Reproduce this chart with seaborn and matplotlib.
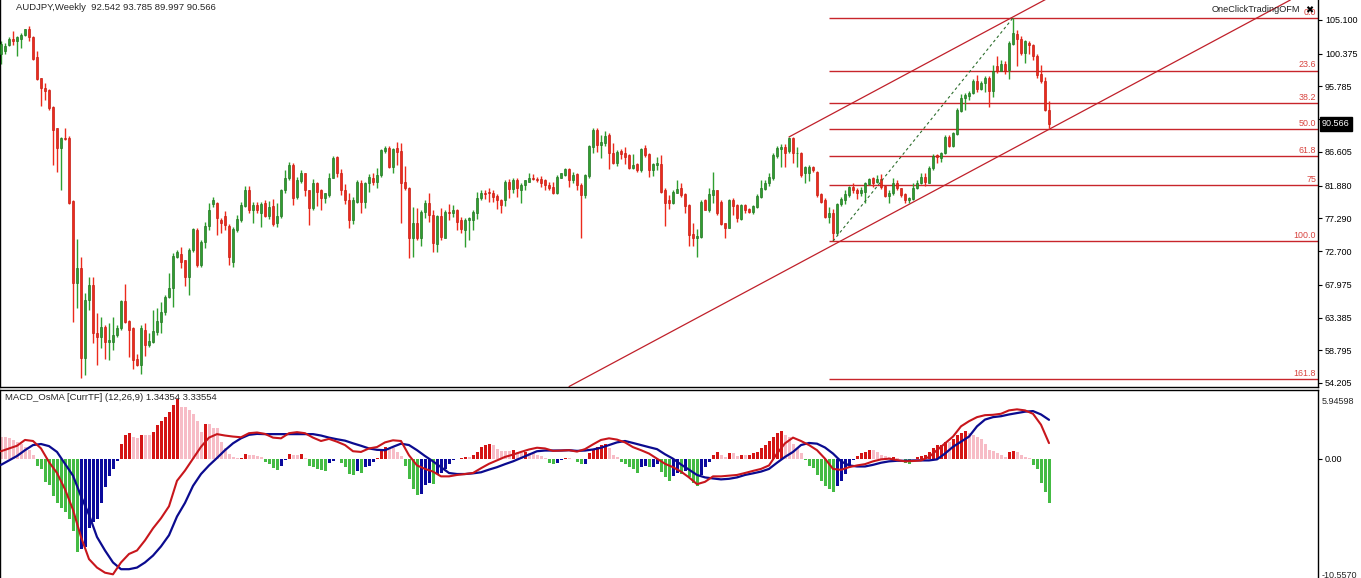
import numpy as np
import pandas as pd
import matplotlib
matplotlib.use("Agg")
import matplotlib.pyplot as plt
import matplotlib.transforms as mtransforms
import seaborn as sns

# ---------------- data ----------------
title_text = 'AUDJPY,Weekly  92.542 93.785 89.997 90.566'
macd_title = 'MACD_OsMA [CurrTF] (12,26,9) 1.34354 3.33554'

opens = [
    100.4, 100.7, 101.6, 102.4, 102.1, 102.5, 103.0, 103.8, 102.7, 99.9,
    96.9, 95.5, 95.3, 92.9, 89.9, 87.1, 88.5, 88.5, 79.7, 68.2,
    70.3, 57.7, 65.8, 68.0, 61.2, 60.7, 62.0, 59.9, 60.0, 60.9,
    61.9, 65.7, 62.9, 61.9, 57.5, 56.7, 61.7, 59.5, 60.0, 61.4,
    62.8, 64.2, 66.2, 67.5, 71.9, 72.3, 71.4, 69.1, 72.9, 75.7,
    70.8, 74.0, 76.2, 79.3, 79.5, 77.0, 77.6, 76.2, 71.2, 75.7,
    77.1, 79.0, 81.3, 78.4, 79.2, 78.0, 79.4, 77.6, 79.0, 76.6,
    77.6, 81.2, 83.0, 84.8, 80.3, 82.5, 83.6, 81.2, 78.8, 82.2,
    81.3, 80.2, 80.6, 83.0, 85.9, 83.6, 81.2, 79.9, 77.1, 79.6,
    82.3, 79.6, 82.3, 83.0, 82.4, 83.4, 86.8, 87.2, 84.5, 87.2,
    86.7, 82.4, 81.6, 74.5, 76.7, 74.6, 78.2, 79.5, 77.8, 73.7,
    77.6, 74.6, 78.2, 78.0, 78.4, 77.0, 75.7, 77.0, 77.1, 78.1,
    80.2, 80.9, 80.9, 80.9, 80.4, 79.9, 79.9, 82.4, 81.4, 82.6,
    81.2, 82.0, 82.4, 83.0, 82.8, 82.8, 82.6, 82.0, 81.7, 80.8,
    83.0, 83.4, 84.2, 82.6, 83.5, 82.0, 80.6, 83.2, 87.3, 89.7,
    87.6, 87.9, 89.0, 86.4, 85.0, 86.8, 86.5, 86.2, 84.3, 84.9,
    84.0, 87.1, 86.3, 84.0, 84.8, 84.9, 81.2, 79.8, 79.5, 80.9,
    81.5, 80.7, 79.2, 75.1, 74.6, 74.7, 79.8, 78.5, 80.6, 81.2,
    79.6, 76.6, 76.0, 79.9, 79.2, 77.2, 79.2, 78.6, 78.2, 78.9,
    80.3, 81.4, 82.2, 83.0, 86.0, 87.0, 87.3, 86.8, 88.5, 86.4,
    86.5, 83.6, 83.6, 84.5, 83.8, 80.7, 79.9, 77.5, 78.1, 75.2,
    79.3, 79.9, 80.6, 81.7, 81.3, 80.9, 81.0, 82.1, 82.9, 82.4,
    82.8, 81.8, 80.4, 80.9, 82.3, 81.5, 80.7, 79.8, 80.0, 81.5,
    82.2, 83.1, 82.3, 84.3, 86.2, 85.8, 86.4, 88.7, 87.4, 89.1,
    92.4, 94.1, 94.4, 94.9, 96.6, 95.4, 96.3, 96.9, 95.2, 98.6,
    98.0, 98.9, 98.1, 101.8, 103.2, 102.5, 100.5, 101.9, 101.6, 100.0,
    97.5, 96.6, 92.542]

highs = [
    102.1, 101.9, 102.7, 103.5, 102.9, 103.3, 103.9, 104.3, 102.8, 100.7,
    97.0, 96.2, 95.4, 93.0, 90.0, 88.7, 89.9, 88.8, 79.9, 74.4,
    71.8, 66.8, 69.1, 69.1, 64.0, 63.5, 62.3, 62.6, 63.5, 62.3,
    65.8, 68.1, 63.1, 62.1, 58.3, 62.3, 62.6, 61.2, 64.4, 64.7,
    65.6, 66.5, 69.6, 72.4, 72.8, 73.3, 71.5, 73.1, 76.0, 76.0,
    74.3, 76.8, 79.4, 80.3, 79.6, 77.3, 78.3, 76.5, 76.1, 77.8,
    79.6, 81.8, 81.8, 79.6, 79.6, 79.6, 79.9, 79.7, 80.0, 79.4,
    81.4, 84.1, 85.2, 85.1, 83.1, 84.1, 83.7, 81.3, 82.8, 82.4,
    81.4, 80.9, 83.7, 86.0, 86.1, 84.2, 82.1, 80.9, 80.3, 82.7,
    82.6, 82.4, 83.5, 83.6, 84.4, 87.0, 87.4, 87.4, 87.2, 88.0,
    87.8, 84.6, 81.7, 78.9, 78.8, 78.4, 79.9, 80.8, 78.4, 77.8,
    78.7, 78.5, 79.3, 79.2, 78.6, 77.5, 77.3, 77.5, 78.5, 81.0,
    81.2, 81.3, 81.6, 81.2, 80.7, 80.0, 82.6, 82.8, 82.9, 82.9,
    82.3, 82.7, 83.6, 83.5, 83.1, 83.2, 82.8, 82.4, 82.4, 83.4,
    83.7, 84.3, 84.3, 83.8, 83.7, 82.2, 83.5, 87.6, 89.9, 89.9,
    89.0, 89.6, 89.3, 87.9, 86.9, 87.0, 87.3, 86.3, 86.3, 85.1,
    87.2, 87.6, 86.5, 85.1, 85.9, 86.2, 81.5, 80.6, 81.2, 82.6,
    82.3, 80.9, 79.3, 76.7, 75.8, 79.9, 80.0, 81.5, 83.8, 81.3,
    79.9, 76.7, 80.0, 80.1, 79.3, 79.3, 79.3, 78.7, 79.2, 80.7,
    82.6, 82.6, 83.7, 86.4, 87.4, 87.7, 87.7, 88.7, 88.7, 87.3,
    86.6, 84.6, 84.8, 84.6, 83.9, 80.9, 80.1, 78.9, 78.6, 79.5,
    80.3, 81.3, 81.8, 82.3, 81.5, 81.7, 82.4, 82.9, 83.1, 83.4,
    83.5, 82.0, 81.3, 82.9, 82.7, 81.6, 80.9, 80.3, 82.3, 82.7,
    83.7, 83.7, 84.6, 86.3, 86.3, 86.6, 89.0, 89.0, 89.4, 92.7,
    94.7, 94.9, 95.2, 96.8, 97.4, 96.6, 97.2, 97.2, 98.8, 100.0,
    99.5, 99.3, 102.2, 105.4, 103.7, 102.8, 102.3, 102.1, 101.8, 100.4,
    98.8, 97.1, 93.785]

lows = [
    99.0, 100.3, 101.4, 101.6, 100.0, 101.2, 102.8, 102.1, 99.5, 96.7,
    93.0, 93.9, 92.5, 84.8, 83.8, 81.2, 88.3, 79.3, 62.8, 64.7,
    54.9, 55.3, 64.4, 59.8, 56.7, 59.1, 57.5, 57.4, 58.8, 60.7,
    61.6, 62.6, 57.9, 56.1, 56.6, 55.5, 58.0, 59.3, 59.8, 60.9,
    61.2, 63.7, 66.1, 64.9, 71.7, 70.3, 67.8, 66.5, 72.6, 70.5,
    70.5, 73.1, 75.7, 78.9, 75.0, 75.2, 75.7, 70.8, 70.5, 75.4,
    76.8, 78.9, 78.0, 76.6, 78.0, 76.1, 77.5, 77.2, 76.2, 76.1,
    77.3, 80.8, 82.7, 79.2, 80.0, 82.2, 80.4, 76.4, 78.4, 79.0,
    78.4, 79.5, 80.3, 82.9, 83.1, 80.6, 79.3, 75.9, 76.5, 79.4,
    78.0, 78.7, 81.0, 82.0, 81.5, 83.1, 86.4, 84.3, 83.7, 84.8,
    76.7, 81.2, 71.7, 71.9, 74.2, 73.4, 77.3, 76.8, 72.5, 72.5,
    74.3, 74.5, 77.1, 77.5, 75.6, 75.3, 73.3, 74.3, 75.7, 77.2,
    79.9, 80.0, 79.6, 79.6, 78.6, 78.0, 79.0, 80.2, 80.8, 80.3,
    79.5, 81.3, 82.4, 82.6, 82.4, 81.7, 81.3, 81.2, 80.7, 80.7,
    82.9, 83.2, 81.7, 82.3, 81.3, 74.6, 80.2, 83.0, 86.5, 86.6,
    85.8, 87.4, 84.2, 84.9, 84.6, 85.6, 84.9, 84.2, 84.2, 83.8,
    83.8, 85.9, 83.1, 83.2, 84.0, 80.8, 76.2, 78.6, 79.3, 80.8,
    80.3, 78.0, 73.4, 73.4, 71.9, 74.6, 78.4, 78.2, 79.5, 77.8,
    76.3, 74.6, 75.9, 77.8, 76.8, 77.0, 78.0, 78.1, 77.9, 78.7,
    80.2, 81.2, 81.8, 82.7, 85.8, 84.5, 84.5, 86.4, 85.0, 84.5,
    83.1, 82.3, 82.5, 83.8, 80.3, 79.5, 77.3, 76.7, 74.1, 75.0,
    79.0, 79.3, 80.3, 80.9, 80.0, 80.4, 79.4, 82.0, 81.7, 82.2,
    81.4, 80.3, 79.5, 80.6, 81.3, 80.3, 79.5, 79.4, 79.9, 81.4,
    82.1, 81.8, 82.2, 84.0, 85.1, 85.2, 86.3, 87.3, 87.3, 89.0,
    92.2, 92.5, 93.9, 94.7, 95.0, 95.3, 95.0, 92.9, 94.3, 97.7,
    97.9, 97.5, 96.8, 101.6, 98.6, 100.2, 99.1, 100.4, 99.5, 96.9,
    96.3, 92.4, 89.997]

closes = [
    101.8, 101.4, 102.4, 102.1, 102.7, 103.0, 103.8, 102.7, 99.7, 96.8,
    95.5, 95.2, 92.7, 89.7, 87.1, 88.5, 88.4, 79.4, 68.2, 70.3,
    57.7, 65.8, 68.0, 61.2, 60.7, 62.1, 59.9, 60.2, 60.9, 61.9,
    65.7, 62.8, 61.7, 57.4, 56.7, 61.9, 59.5, 60.1, 61.5, 62.9,
    64.2, 66.2, 67.5, 72.0, 72.5, 71.2, 69.1, 72.9, 75.8, 70.8,
    74.0, 76.2, 78.4, 79.9, 77.3, 76.6, 76.4, 71.8, 75.8, 77.2,
    79.2, 81.3, 78.4, 79.2, 78.4, 79.3, 77.6, 78.9, 76.5, 77.6,
    81.2, 83.0, 84.8, 80.2, 82.7, 83.7, 81.2, 78.8, 82.2, 81.0,
    80.2, 80.8, 83.0, 85.8, 83.6, 81.2, 79.8, 77.1, 79.9, 82.4,
    79.6, 82.2, 83.1, 82.4, 83.4, 86.9, 87.2, 84.5, 87.0, 86.6,
    82.3, 81.6, 74.5, 76.6, 74.5, 78.2, 79.5, 77.8, 73.8, 77.6,
    74.7, 78.2, 78.0, 78.4, 76.8, 75.8, 77.1, 77.3, 78.2, 80.2,
    80.9, 80.7, 80.8, 80.3, 79.9, 79.2, 82.4, 81.4, 82.6, 81.5,
    82.0, 82.6, 82.9, 82.8, 82.7, 82.3, 82.0, 81.5, 80.8, 83.1,
    83.6, 84.2, 82.6, 83.4, 82.0, 80.6, 83.4, 87.4, 89.7, 87.6,
    88.0, 88.8, 86.4, 85.0, 86.6, 86.3, 85.9, 84.3, 84.8, 84.0,
    87.0, 86.2, 84.0, 84.9, 85.0, 81.0, 79.5, 79.5, 81.0, 81.4,
    80.6, 79.0, 75.0, 74.6, 74.8, 79.6, 78.5, 80.7, 81.2, 78.0,
    76.5, 76.0, 79.9, 79.0, 77.3, 79.2, 78.5, 78.2, 79.0, 80.4,
    81.5, 82.3, 83.1, 86.2, 87.1, 87.3, 86.4, 88.5, 86.4, 86.5,
    83.4, 84.5, 84.5, 84.0, 80.6, 79.6, 77.5, 78.1, 75.2, 79.3,
    80.0, 80.7, 81.7, 81.2, 80.9, 81.3, 82.2, 82.8, 82.3, 82.8,
    81.7, 80.4, 80.9, 82.3, 81.5, 80.6, 79.8, 80.1, 81.6, 82.3,
    83.1, 82.4, 84.3, 86.0, 85.9, 86.5, 88.7, 87.4, 89.2, 92.5,
    94.1, 94.6, 94.9, 96.6, 95.4, 96.3, 96.9, 95.2, 98.0, 97.9,
    98.9, 98.0, 101.9, 103.3, 102.5, 100.5, 102.1, 101.6, 100.0, 97.4,
    96.5, 92.5, 90.566]

# OsMA histogram, one value per weekly bar
osma = [
    1.9, 1.9, 1.75, 1.6, 1.46, 1.3, 1.0, 0.73, 0.3, -0.6,
    -0.9, -2.0, -2.3, -3.2, -3.8, -4.2, -4.6, -5.2, -6.2, -8.0,
    -7.8, -7.6, -6.0, -5.4, -5.2, -3.8, -2.4, -1.5, -0.9, -0.2,
    1.3, 2.0, 2.2, 1.9, 1.75, 2.0, 2.0, 2.0, 2.3, 2.9,
    3.2, 3.6, 4.0, 4.6, 5.1, 4.4, 4.4, 4.2, 3.8, 3.2,
    2.3, 3.0, 3.0, 2.6, 2.6, 1.46, 0.88, 0.44, 0.15, 0.05,
    0.1, 0.44, 0.35, 0.3, 0.23, 0.15, -0.3, -0.45, -0.8, -1.0,
    -0.6, -0.15, 0.4, 0.3, 0.3, 0.4, 0.05, -0.6, -0.7, -0.9,
    -1.0, -1.1, -0.4, -0.2, -0.05, -0.4, -0.7, -1.3, -1.4, -1.1,
    -1.2, -0.7, -0.6, -0.3, 0.1, 0.7, 1.0, 0.9, 0.9, 0.6,
    0.25, -0.6, -1.75, -2.6, -3.1, -3.0, -2.25, -2.05, -2.2, -1.3,
    -1.2, -0.9, -0.45, -0.15, -0.05, 0.05, 0.15, 0.15, 0.35, 0.6,
    1.0, 1.2, 1.3, 1.2, 0.8, 0.7, 0.7, 0.7, 0.72, 0.6,
    0.45, 0.6, 0.45, 0.45, 0.3, 0.25, 0.05, -0.35, -0.5, -0.35,
    -0.15, 0.05, 0.02, -0.02, -0.25, -0.5, -0.45, 0.45, 0.75, 1.0,
    1.2, 1.25, 0.9, 0.35, 0.15, -0.3, -0.45, -0.75, -0.9, -1.25,
    -0.75, -0.6, -0.75, -0.7, -0.5, -1.15, -1.6, -1.9, -1.45, -1.2,
    -1.3, -1.1, -1.6, -2.05, -2.35, -1.4, -0.75, -0.3, 0.35, 0.6,
    0.35, 0.15, 0.45, 0.45, 0.25, 0.3, 0.3, 0.35, 0.45, 0.6,
    0.9, 1.2, 1.5, 1.9, 2.2, 2.35, 2.05, 1.9, 1.3, 0.9,
    0.45, -0.15, -0.6, -0.8, -1.4, -1.9, -2.35, -2.6, -2.9, -2.35,
    -1.9, -1.3, -0.6, -0.15, 0.25, 0.45, 0.6, 0.75, 0.75, 0.6,
    0.35, 0.2, 0.15, 0.18, 0.05, -0.05, -0.35, -0.45, -0.05, 0.15,
    0.25, 0.35, 0.6, 0.95, 1.15, 1.2, 1.45, 1.4, 1.7, 2.05,
    2.2, 2.35, 2.2, 2.05, 1.9, 1.7, 1.3, 0.75, 0.65, 0.45,
    0.35, 0.15, 0.6, 0.65, 0.6, 0.35, 0.15, 0.05, -0.55, -0.9,
    -2.05, -2.9, -3.8]

# MACD (red) and signal (blue), read every second bar
macd_line = [
    0.64, 0.88, 1.11, 1.61, 1.52, 0.88, -0.29, -1.23, -2.63, -4.39,
    -6.73, -8.63, -9.36, -9.8, -9.94, -8.92, -8.19, -7.89, -7.02, -5.99,
    -5.12, -4.09, -1.9, -1.02, 0.0, 1.02, 1.81, 2.11, 1.99, 1.9,
    1.84, 2.19, 2.25, 2.13,
    1.81, 1.75, 2.19, 2.28, 2.19, 1.81, 1.52, 1.7, 1.46, 1.17,
    0.64, 0.58, 0.88, 1.0, 1.4, 1.58, 1.52, 0.29, -0.58, -0.88,
    -1.11, -1.52, -1.52, -1.4, -1.32, -1.23, -0.82, -0.44, -0.15, 0.15,
    0.35, 0.58, 0.79, 0.94,
    0.88, 0.67, 0.7, 0.73, 0.61, 0.82, 1.23, 1.61, 1.75, 1.64,
    1.4, 0.99, 0.73, 0.44, 0.0, -0.44, -0.73, -1.11, -1.61, -2.19,
    -1.99, -1.52, -1.52, -1.46, -1.4, -1.23, -1.05, -0.88, -0.58, 0.44,
    1.32, 1.81, 1.52,
    1.17, 0.73, 0.0, -0.88, -0.96, -0.73, -0.58, -0.47, -0.23, -0.06,
    0.0, -0.12, -0.23, -0.2, -0.15, 0.15, 0.73, 1.32, 1.9, 2.78,
    3.22, 3.57, 3.74, 3.77, 3.86, 4.15, 4.24, 4.15, 3.86, 2.92,
    1.34]

signal_line = [
    -0.53, -0.15, 0.23, 0.73, 1.17, 1.26, 1.08, 0.58, -0.44, -1.46,
    -3.22, -4.82, -6.73, -7.89, -8.92, -9.5, -9.5, -9.36, -8.92, -8.33,
    -7.54, -6.58, -4.97, -3.8, -2.34, -1.32, -0.58, 0.06, 0.73, 1.32,
    1.75, 2.05, 2.13, 2.11,
    2.11, 2.11, 2.11, 2.11, 2.11, 2.11, 1.99, 1.81, 1.67, 1.55,
    1.32, 1.11, 0.88, 0.76, 0.73, 1.02, 1.29, 1.17, 0.73, 0.23,
    -0.23, -0.73, -1.23, -1.32, -1.32, -1.26, -1.17, -0.94, -0.73, -0.47,
    -0.23, 0.06, 0.35, 0.64,
    0.7, 0.7, 0.7, 0.73, 0.67, 0.7, 0.79, 0.94, 1.17, 1.4,
    1.52, 1.35, 1.17, 0.99, 0.82, 0.38, 0.0, -0.5, -0.94, -1.4,
    -1.61, -1.7, -1.78, -1.73, -1.61, -1.4, -1.26, -1.11, -0.88, -0.35,
    0.15, 0.58, 1.17,
    1.35, 1.29, 0.96, 0.44, -0.23, -0.58, -0.67, -0.67, -0.53, -0.35,
    -0.23, -0.18, -0.18, -0.15, -0.15, -0.15, -0.06, 0.44, 1.02, 1.46,
    1.9, 2.78, 3.36, 3.57, 3.65, 3.8, 3.92, 4.04, 4.09, 3.8,
    3.34]

price_ticks = [105.100, 100.375, 95.785, 91.195, 86.605, 81.880,
               77.290, 72.700, 67.975, 63.385, 58.795, 54.205]
last_price = 90.566

# Fibonacci retracement drawn from the swing low bar to the swing high bar
fib_low_bar, fib_low = 208, 74.1
fib_high_bar, fib_high = 253, 105.4
fib_levels = [0.0, 23.6, 38.2, 50.0, 61.8, 75.0, 100.0, 161.8]
fib_labels = ['0.0', '23.6', '38.2', '50.0', '61.8', '75', '100.0', '161.8']

# channel: main line through two lows, parallel line from a high
chan_a = (208, 73.54)
chan_b = (262, 89.77)
chan_high = (197, 88.7)

macd_top, macd_bottom = 5.94598, -10.5570

# ---------------- drawing ----------------
sns.set_theme(style="white")
plt.rcParams['font.family'] = ['Liberation Sans', 'DejaVu Sans']

W, H = 1361, 578
fig = plt.figure(figsize=(W / 100, H / 100), dpi=100)
ax = fig.add_axes([0, (H - 386.5) / H, 1318 / W, 386.5 / H])
mx = fig.add_axes([0, (H - 581.5) / H, 1318 / W, 192 / H])

df = pd.DataFrame({'open': opens, 'high': highs, 'low': lows, 'close': closes})
assert len(df) == len(osma) == 263
df['bar'] = np.arange(len(df))
up = df['close'] >= df['open']
body_col = np.where(up, '#2f9e2f', '#ec2a1c')
edge_col = np.where(up, '#1f6f1f', '#c01a10')

ax.vlines(df['bar'], df['low'], df['high'], colors=body_col, linewidth=1.0, zorder=2)
ax.bar(df['bar'], (df['close'] - df['open']).abs().clip(lower=0.12),
       bottom=df[['open', 'close']].min(axis=1), width=0.7,
       color=body_col, edgecolor=edge_col, linewidth=0.45, zorder=3)

xmax = -0.25 + 1318 / 4
ax.set_xlim(-0.25, xmax)
ax.set_ylim(53.711, 107.904)

# fibonacci levels
fib_col = '#c8252b'
trans = mtransforms.blended_transform_factory(ax.transAxes, ax.transData)
for lvl, lab in zip(fib_levels, fib_labels):
    p = fib_high - lvl / 100 * (fib_high - fib_low)
    ax.hlines(p, fib_low_bar - 1, xmax, color=fib_col, linewidth=1.0, zorder=1)
    ax.text(0.9985, p + 0.18, lab, transform=trans, ha='right', va='bottom',
            fontsize=6.4, color='#d8443f', zorder=4)

ax.plot([fib_low_bar, fib_high_bar], [fib_low, fib_high], color='#2d6e2d',
        linewidth=0.8, linestyle=(0, (2.5, 2.5)), zorder=4)

# channel lines
slope = (chan_b[1] - chan_a[1]) / (chan_b[0] - chan_a[0])
ax.axline(chan_a, chan_b, color='#c0202a', linewidth=0.9, zorder=1)
ax.plot([chan_high[0], xmax + 20], [chan_high[1], chan_high[1] + slope * (xmax + 20 - chan_high[0])],
        color='#c0202a', linewidth=0.9, zorder=1)

ax.set_xticks([])
ax.yaxis.tick_right()
ax.set_yticks(price_ticks)
ax.set_yticklabels([f'{t:.3f}' for t in price_ticks])
ax.tick_params(axis='y', direction='out', length=3, width=0.8, pad=2,
               labelsize=6.5, colors='black', right=True)
for side in ['left', 'right', 'bottom']:
    ax.spines[side].set_visible(True)
    ax.spines[side].set_color('black')
    ax.spines[side].set_linewidth(1.0)
ax.spines['top'].set_visible(False)

# ---------------- MACD / OsMA panel ----------------
hist = np.array(osma)
prev = np.concatenate([[hist[0] + 0.1], hist[:-1]])
bar_cols = np.where(hist >= 0,
                    np.where(hist > prev, '#d41414', '#f7bcc6'),
                    np.where(hist < prev, '#44bb44', '#0a0a9c'))
mx.bar(np.arange(len(hist)), hist, width=0.75, color=bar_cols, linewidth=0, zorder=2)

line_bars = np.arange(0, 263, 2)
sns.lineplot(x=line_bars, y=signal_line, ax=mx, color='#0b0b8f', linewidth=1.6, zorder=3)
sns.lineplot(x=line_bars, y=macd_line, ax=mx, color='#c8161c', linewidth=1.5, zorder=4)

mx.set_xlim(-0.25, xmax)
mx.set_ylim(macd_bottom, macd_top)
mx.set_xticks([])
mx.yaxis.tick_right()
mx.set_yticks([0])
mx.set_yticklabels(['0.00'])
mx.tick_params(axis='y', direction='out', length=3, width=0.8, pad=2,
               labelsize=6.5, colors='black', right=True)
for side in ['left', 'right', 'top']:
    mx.spines[side].set_visible(True)
    mx.spines[side].set_color('black')
    mx.spines[side].set_linewidth(1.0)
mx.spines['bottom'].set_visible(False)


def px(x, y):
    return x / W, 1 - y / H


fig.text(*px(1322, 401), f'{macd_top:.5f}', fontsize=6.5, va='center', ha='left')
fig.text(*px(1322, 576), f'{macd_bottom:.4f}', fontsize=6.5, va='center', ha='left')

# titles and labels
fig.text(*px(16, 8), title_text, fontsize=6.8, va='center', ha='left')
fig.text(*px(5, 398), macd_title, fontsize=6.8, va='center', ha='left')
fig.text(*px(1212, 10), 'OneClickTradingOFM', fontsize=6.6, va='center', ha='left', color='#222222')
fig.text(*px(1305, 10), '\u2716', fontsize=7, va='center', ha='left', color='black',
         family=['DejaVu Sans'])
fig.text(*px(1322, 124), f'{last_price:.3f}', fontsize=6.5, va='center', ha='left', color='white',
         bbox=dict(boxstyle='square,pad=0.25', fc='black', ec='black'))

fig.savefig('out.png', dpi=100, facecolor='white')
